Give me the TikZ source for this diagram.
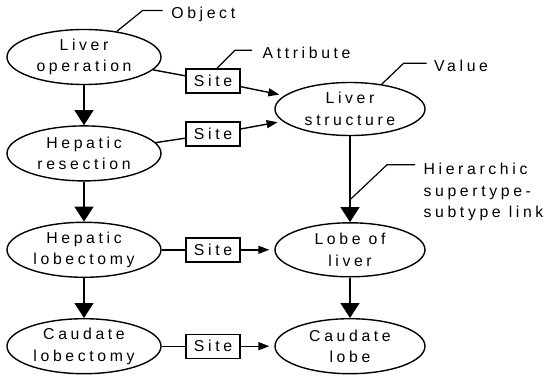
\documentclass[tikz,border=0pt]{standalone}
\usepackage{fontspec}
\setmainfont{Liberation Sans}[LetterSpace=23]
\usetikzlibrary{shapes,arrows,positioning,calc,arrows.meta}

\begin{document}
\begin{tikzpicture}[x=1pt, y=1pt, line width=1.4pt,
    concept/.style={draw, ellipse, minimum width=154pt, minimum height=55pt, inner sep=0pt, align=center, font=\fontsize{15.8}{21.5}\selectfont},
    attr/.style={draw, rectangle, minimum width=54pt, minimum height=24pt, inner sep=0pt, font=\fontsize{15.8}{18}\selectfont},
    note/.style={inner sep=0pt, align=left, font=\fontsize{15.8}{21.5}\selectfont},
    tag/.style={note, anchor=base west, xshift=8pt, yshift=-8.5pt},
    isa/.style={-{Triangle[width=19pt,length=15pt]}},
    rel/.style={-{Triangle[width=8pt,length=11pt]}, shorten >=5pt}]
    \useasboundingbox (0,0) rectangle (551,381);

    % operations
    \node [concept] (liverop) at (84,324) {Liver\\operation};
    \node [concept, below=40pt of liverop] (hepres) {Hepatic\\resection};
    \node [concept, below=40pt of hepres] (heplob) {Hepatic\\lobectomy};
    \node [concept, below=40pt of heplob] (caulob) {Caudate\\lobectomy};

    % sites
    \node [attr] (site1) at (213,300) {Site};
    \node [attr] (site2) at (213,247) {Site};
    \node [attr] (site3) at (site1 |- heplob) {Site};
    \node [attr] (site4) at (site1 |- caulob) {Site};

    % structures
    \node [concept, minimum width=150pt, minimum height=53pt] (livstr) at (350,272) {Liver\\structure};
    \node [concept, minimum width=150pt, minimum height=54pt] (lobe) at (livstr |- heplob) {Lobe of\\liver};
    \node [concept, minimum width=150pt, minimum height=55pt] (caulobe) at (livstr |- caulob) {Caudate\\lobe};

    \draw [isa] (liverop) -- (hepres);
    \draw [isa] (hepres) -- (heplob);
    \draw [isa] (heplob) -- (caulob);
    \draw [isa] (livstr) -- coordinate[pos=0.74] (hlink) (lobe);
    \draw [isa] (lobe) -- (caulobe);

    \draw (liverop) -- (site1);
    \draw [rel] (site1) -- (livstr);
    \draw (hepres) -- (site2);
    \draw [rel] (site2) -- (livstr);
    \draw (heplob) -- (site3);
    \draw [rel] (site3) -- (lobe);
    \draw (caulob) -- (site4);
    \draw [rel] (site4) -- (caulobe);

    % callouts
    \draw [line width=1.2pt] (liverop.38) -- ++(26,21) -- ++(20,0) node [tag] (objlbl) {Object};
    \draw [line width=1.2pt] ([xshift=4pt]site1.north) -- ++(18,18) -- ++(17,0) node [tag, xshift=2pt] (attrlbl) {Attribute};
    \draw [line width=1.2pt] (livstr.38) -- ++(22,21) -- ++(23,0) node [tag, xshift=-1pt] (vallbl) {Value};
    \draw [line width=1.2pt] (hlink) -- ++(37,35) -- ++(28,0) node [note, anchor=north west, xshift=8pt, yshift=2pt] (hierlbl) {Hierarchic\\supertype-\\subtype link};
\end{tikzpicture}
\end{document}
